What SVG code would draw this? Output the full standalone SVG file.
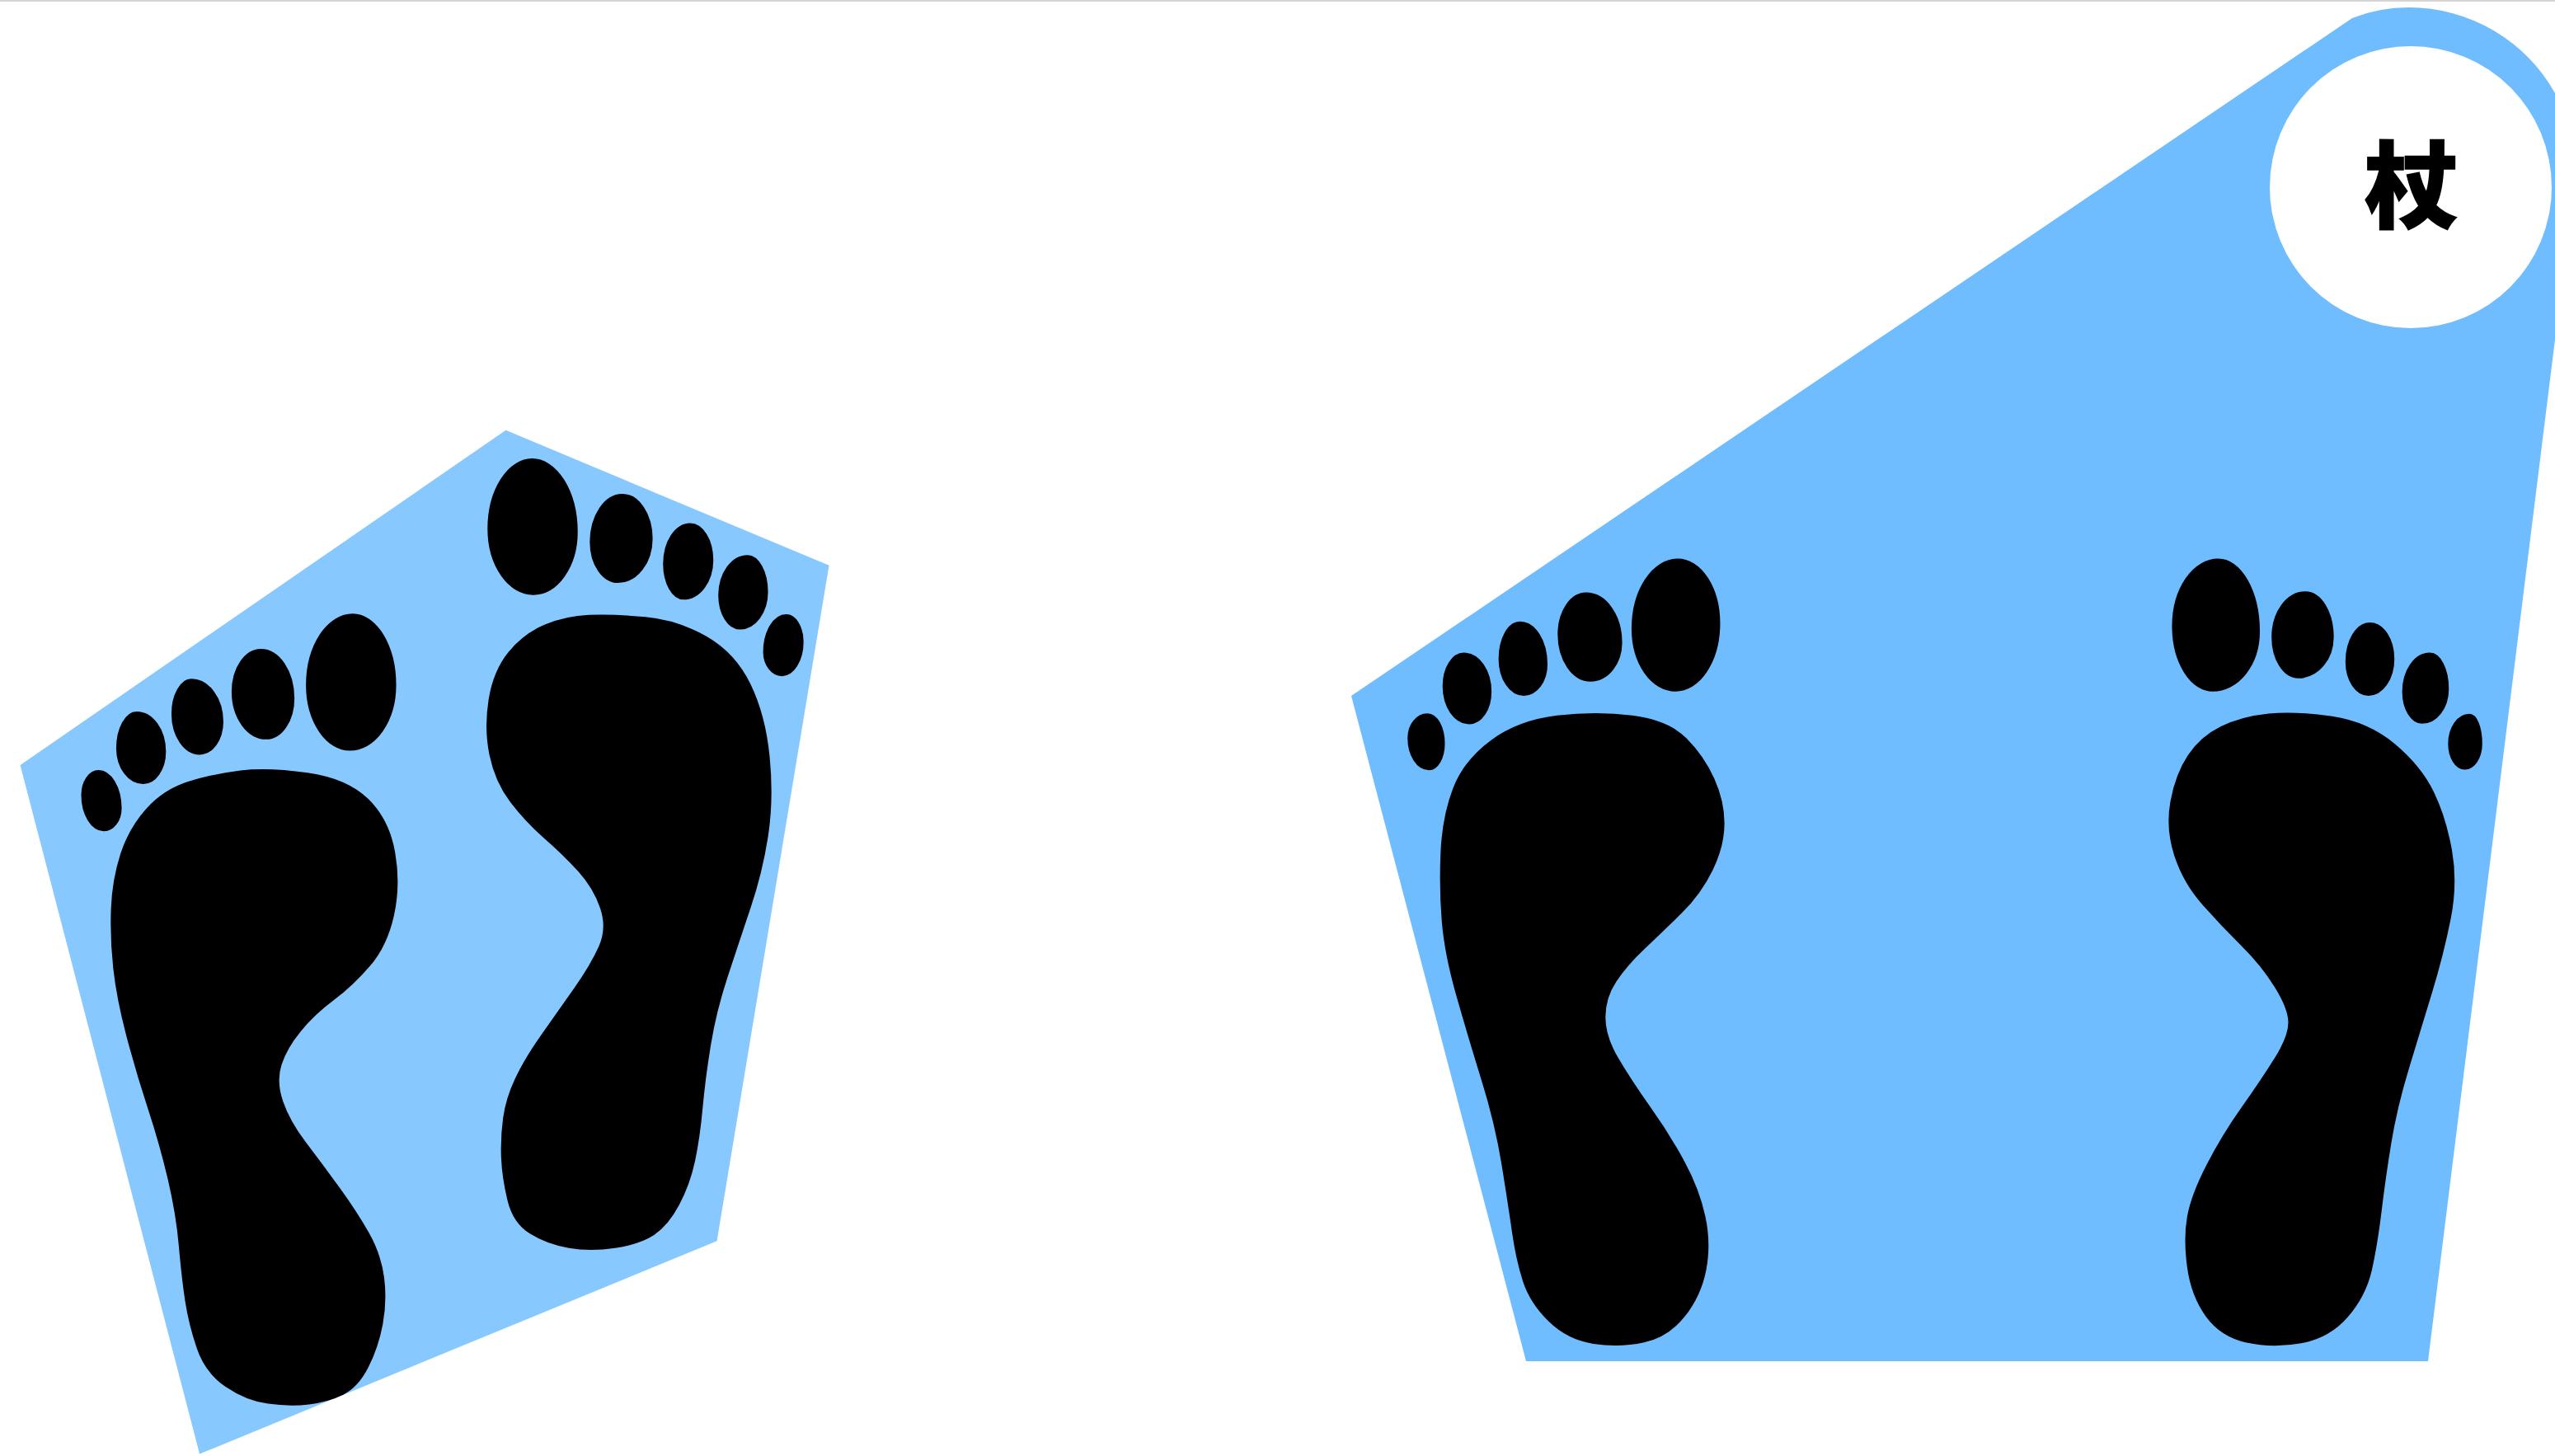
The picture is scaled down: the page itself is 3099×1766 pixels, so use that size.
<svg xmlns="http://www.w3.org/2000/svg" width="3099" height="1766" viewBox="0 0 3099 1766">
<style>
.foot{fill:#000}
.toes{fill:#000;stroke:#000;stroke-width:3;stroke-linejoin:round}
.left{fill:#87c8ff}
.right{fill:#6fbdff}
.label{font-family:"Noto Sans CJK SC","Noto Sans CJK JP",sans-serif;font-weight:900;font-size:114px;fill:#000;stroke:#000;stroke-width:1.5px;text-anchor:middle}
</style>
<rect width="3099" height="1766" fill="#fff"/>
<rect id="top-rule" width="3099" height="2" fill="#d4d4d4"/>
<g id="left-pair" transform="translate(0 500) scale(0.66327 0.8074)">
<polygon class="left" points="925,27 1516,230 1311,1245 365,1565 37,530"/>
<g id="foot-1" class="foot">
<path d="M440 538Q490 533 562.5 541.5Q635 550 673.5 581Q712 612 722.5 661Q733 710 720.5 756Q708 802 676.5 832Q645 862 610 883.5Q575 905 550 930Q525 955 515 980Q505 1005 517.5 1035Q530 1065 560 1097.5Q590 1130 621 1165Q652 1200 674.5 1232.5Q697 1265 702.5 1300Q708 1335 700 1370Q692 1405 673.5 1435Q655 1465 627.5 1476Q600 1487 565 1490.5Q530 1494 490 1489.5Q450 1485 412.5 1464Q375 1443 360 1406.5Q345 1370 338.5 1335Q332 1300 327 1252.5Q322 1205 307 1152.5Q292 1100 270 1045Q248 990 230.5 935Q213 880 207 835Q201 790 203 746Q205 702 220.5 663Q236 624 268 595Q300 566 345 554.5Q390 543 440 538Z"/>
<g class="toes">
<path d="M645 304A78 106 0 0 1 723 410A83 97 0 0 1 640 507A79 97 0 0 1 561 410A84 106 0 0 1 645 304Z"/>
<path d="M477 357A60 73 0 0 1 537 430A50 60 0 0 1 487 490A62 70 0 0 1 425 420A52 63 0 0 1 477 357Z"/>
<path d="M350 402A57 63 0 0 1 407 465A42 48 0 0 1 365 513A50 60 0 0 1 315 453A35 51 0 0 1 350 402Z"/>
<path d="M250 451A52 59 0 0 1 302 510A40 47 0 0 1 262 557A48 52 0 0 1 214 505A36 54 0 0 1 250 451Z"/>
<path d="M180 539A41 56 0 0 1 221 595A31 33 0 0 1 190 628A40 53 0 0 1 150 575A30 36 0 0 1 180 539Z"/>
</g>
</g>
<g id="foot-2" class="foot">
<path d="M1077.5 304.5Q1120 303 1180 307.5Q1240 312 1292.5 337Q1345 362 1372.5 408.5Q1400 455 1407.5 517.5Q1415 580 1405 635Q1395 690 1372.5 745Q1350 800 1330 850Q1310 900 1300 950Q1290 1000 1285 1045Q1280 1090 1271 1125Q1262 1160 1242 1191Q1222 1222 1196 1236Q1170 1250 1125 1255.5Q1080 1261 1040 1255.5Q1000 1250 969 1234Q938 1218 928 1184Q918 1150 916.5 1120Q915 1090 920 1060Q925 1030 942.5 1000Q960 970 990 935Q1020 900 1050 865Q1080 830 1095 802.5Q1110 775 1097.5 745Q1085 715 1057.5 690Q1030 665 995 640Q960 615 932.5 585Q905 555 895 515Q885 475 893.5 431.5Q902 388 930 360Q958 332 996.5 319Q1035 306 1077.5 304.5Z"/>
<g class="toes">
<path d="M973 71A82 109 0 0 1 1055 180A80 93 0 0 1 975 273A82 98 0 0 1 893 175A80 104 0 0 1 973 71Z"/>
<path d="M1138 124A54 66 0 0 1 1192 190A62 65 0 0 1 1130 255A50 60 0 0 1 1080 195A58 71 0 0 1 1138 124Z"/>
<path d="M1262 168A41 54 0 0 1 1303 222A53 58 0 0 1 1250 280A36 52 0 0 1 1214 228A48 60 0 0 1 1262 168Z"/>
<path d="M1367 216A36 54 0 0 1 1403 270A50 55 0 0 1 1353 325A38 50 0 0 1 1315 275A52 59 0 0 1 1367 216Z"/>
<path d="M1438 305A30 40 0 0 1 1468 345A38 50 0 0 1 1430 395A33 35 0 0 1 1397 360A41 55 0 0 1 1438 305Z"/>
</g>
</g>
</g>
<g id="right-pair">
<path class="right" d="M1639 844L2853 22Q2885 9 2922 9A203 203 0 0 1 3099 113L3140 180L3122 227L2945 1651L1851 1651Z"/>
<g transform="translate(1620 640) scale(0.94324 0.66327)">
<g id="foot-3" class="foot">
<path d="M285 343.5Q335 335 381.5 343.5Q428 352 451 385Q474 418 487 459Q500 500 500 541Q500 582 485 626Q470 670 445 705Q420 740 397.5 770Q375 800 361 830Q347 860 347 895Q347 930 363.5 970Q380 1010 405 1060Q430 1110 449 1160Q468 1210 475.5 1260Q483 1310 476.5 1357.5Q470 1405 449 1442.5Q428 1480 396.5 1490Q365 1500 331.5 1492.5Q298 1485 274 1451.5Q250 1418 241 1379Q232 1340 227 1290Q222 1240 213.5 1165Q205 1090 187.5 1010Q170 930 155 855Q140 780 136.5 720Q133 660 135 594Q137 528 151 476.5Q165 425 200 388.5Q235 352 285 343.5Z"/>
<g class="toes">
<path d="M440 58A53 117 0 0 1 493 175A56 123 0 0 1 437 298A55 113 0 0 1 382 185A58 127 0 0 1 440 58Z"/>
<path d="M322 120A45 90 0 0 1 367 210A39 70 0 0 1 328 280A41 85 0 0 1 287 195A35 75 0 0 1 322 120Z"/>
<path d="M237 173A34 77 0 0 1 271 250A29 56 0 0 1 242 306A31 66 0 0 1 211 240A26 67 0 0 1 237 173Z"/>
<path d="M165 230A34 70 0 0 1 199 300A27 58 0 0 1 172 358A33 68 0 0 1 139 290A26 60 0 0 1 165 230Z"/>
<path d="M118 341A21 54 0 0 1 139 395A19 47 0 0 1 120 442A26 57 0 0 1 94 385A24 44 0 0 1 118 341Z"/>
</g>
</g>
<g id="foot-4" class="foot">
<path d="M1200 340Q1235 335 1281.5 345Q1328 355 1362 395.5Q1396 436 1412 483Q1428 530 1435.5 590Q1443 650 1434 715Q1425 780 1410 850Q1395 920 1380 990Q1365 1060 1357.5 1125Q1350 1190 1345 1250Q1340 1310 1332.5 1357.5Q1325 1405 1301.5 1443.5Q1278 1482 1241.5 1491.5Q1205 1501 1171.5 1490.5Q1138 1480 1119 1442.5Q1100 1405 1095 1352.5Q1090 1300 1095 1260Q1100 1220 1120 1165Q1140 1110 1165 1060Q1190 1010 1207.5 970Q1225 930 1225 905Q1225 880 1207.5 840Q1190 800 1165 765Q1140 730 1115 690Q1090 650 1078.5 600Q1067 550 1073.5 500Q1080 450 1096 416Q1112 382 1138.5 363.5Q1165 345 1200 340Z"/>
<g class="toes">
<path d="M1135 58A52 132 0 0 1 1187 190A59 108 0 0 1 1128 298A51 118 0 0 1 1077 180A58 122 0 0 1 1135 58Z"/>
<path d="M1247 118A35 82 0 0 1 1282 200A44 74 0 0 1 1238 274A33 74 0 0 1 1205 200A42 82 0 0 1 1247 118Z"/>
<path d="M1330 175A30 65 0 0 1 1360 240A32 66 0 0 1 1328 306A28 61 0 0 1 1300 245A30 70 0 0 1 1330 175Z"/>
<path d="M1407 230A23 65 0 0 1 1430 295A33 62 0 0 1 1397 357A24 57 0 0 1 1373 300A34 70 0 0 1 1407 230Z"/>
<path d="M1458 342A15 53 0 0 1 1473 395A21 46 0 0 1 1452 441A20 46 0 0 1 1432 395A26 53 0 0 1 1458 342Z"/>
</g>
</g>
</g>
</g>
<g id="cane">
<circle cx="2924" cy="227" r="171" fill="#fff"/>
<text class="label" x="2925" y="267">杖</text>
</g>
</svg>
